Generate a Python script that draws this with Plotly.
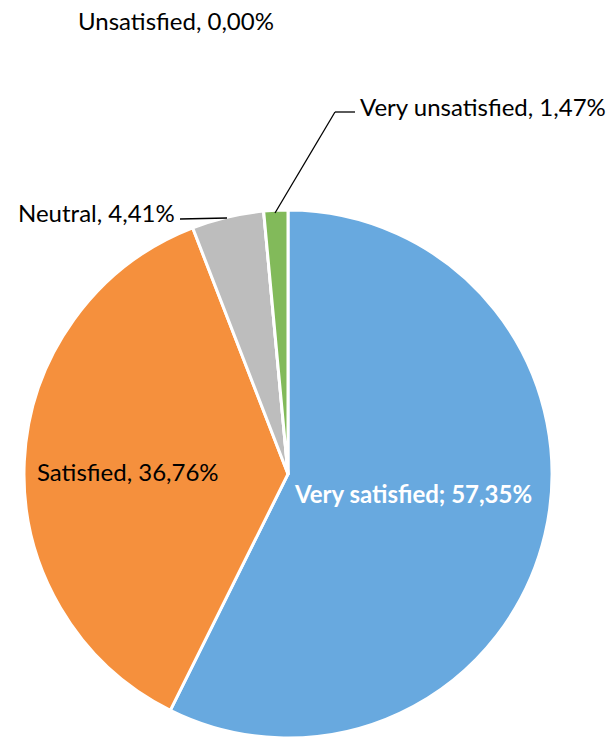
import plotly.graph_objects as go

# Satisfaction survey shares (percent)
categories = ["Very satisfied", "Satisfied", "Neutral", "Unsatisfied", "Very unsatisfied"]
shares = [57.35, 36.76, 4.41, 0.00, 1.47]
slice_colors = ["#68A9DF", "#F5903D", "#BDBDBD", "#E0C040", "#82BA5A"]

W, H = 611, 738
FONT = "Lato"


def fmt(v):
    return f"{v:.2f}".replace(".", ",") + "%"


fig = go.Figure()
fig.add_trace(go.Pie(
    labels=categories,
    values=shares,
    sort=False,
    direction="clockwise",
    rotation=0,
    marker=dict(colors=slice_colors, line=dict(color="white", width=3)),
    textinfo="none",
    hoverinfo="label+percent",
    showlegend=False,
    domain=dict(x=[23 / W, 553 / W], y=[0, 528 / H]),
))

# label centres (pixels from top-left) for each category
label_pos = {
    "Very satisfied": (413, 493),
    "Satisfied": (128, 471),
    "Neutral": (96, 213),
    "Unsatisfied": (176, 21),
    "Very unsatisfied": (483, 107),
}

annotations = []
for cat, val in zip(categories, shares):
    x, y = label_pos[cat]
    if cat == "Very satisfied":
        text = f"<b>{cat}; {fmt(val)}</b>"
        color = "white"
    else:
        text = f"{cat}, {fmt(val)}"
        color = "black"
    annotations.append(dict(
        x=x / W, y=1 - y / H, xref="paper", yref="paper",
        text=text, showarrow=False, xanchor="center", yanchor="middle",
        font=dict(family=FONT, size=24, color=color),
    ))

# leader lines for the small slices
leaders = [
    [(180, 219), (227, 218)],
    [(275, 213), (335, 112), (355, 112)],
]
shapes = []
for pts in leaders:
    for (x0, y0), (x1, y1) in zip(pts[:-1], pts[1:]):
        shapes.append(dict(
            type="line", xref="paper", yref="paper",
            x0=x0 / W, y0=1 - y0 / H, x1=x1 / W, y1=1 - y1 / H,
            line=dict(color="black", width=1.3),
        ))

fig.update_layout(
    width=W, height=H,
    margin=dict(l=0, r=0, t=0, b=0),
    paper_bgcolor="white",
    plot_bgcolor="white",
    annotations=annotations,
    shapes=shapes,
)

fig.write_html("out.html")
